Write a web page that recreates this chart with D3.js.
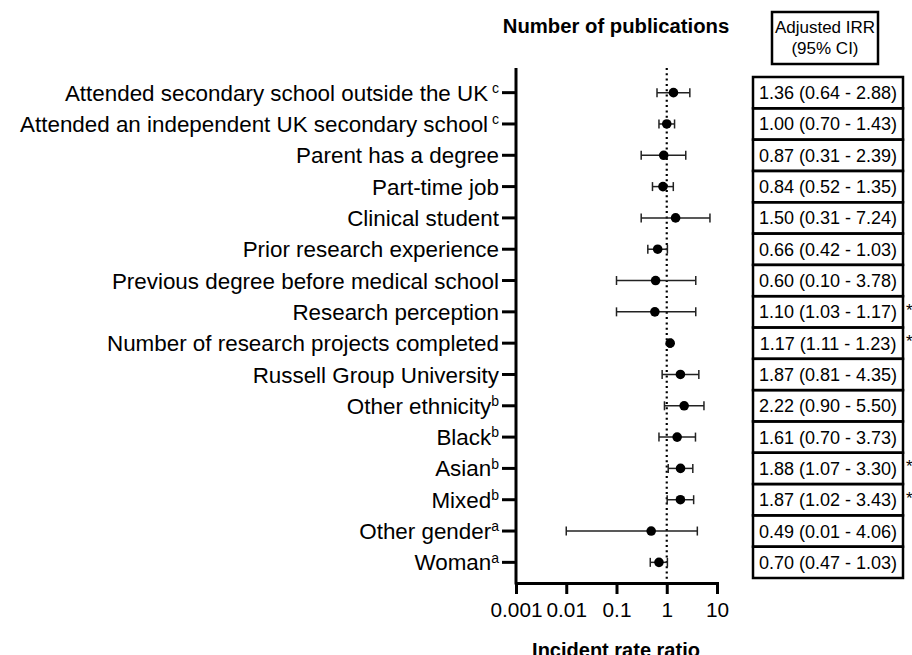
<!DOCTYPE html>
<html>
<head>
<meta charset="utf-8">
<script src="https://cdn.jsdelivr.net/npm/d3@7"></script>
<style>
  body { margin: 0; background: #fff; }
  svg { font-family: "Liberation Sans", Arial, Helvetica, sans-serif; }
</style>
</head>
<body>
<div id="chart"></div>
<script>
// row labels, top to bottom
const labels = [
  "Attended secondary school outside the UK",
  "Attended an independent UK secondary school",
  "Parent has a degree",
  "Part-time job",
  "Clinical student",
  "Prior research experience",
  "Previous degree before medical school",
  "Research perception",
  "Number of research projects completed",
  "Russell Group University",
  "Other ethnicity",
  "Black",
  "Asian",
  "Mixed",
  "Other gender",
  "Woman"
];
const sups = [" c", " c", "", "", "", "", "", "", "", "", "b", "b", "b", "b", "a", "a"];

// plotted estimates and 95% CI as drawn
const est = [1.36, 1.00, 0.87, 0.84, 1.50, 0.66, 0.60, 0.58, 1.17, 1.87, 2.22, 1.61, 1.88, 1.87, 0.49, 0.70];
const lo  = [0.64, 0.70, 0.31, 0.52, 0.31, 0.42, 0.10, 0.10, 1.11, 0.81, 0.90, 0.70, 1.07, 1.02, 0.01, 0.47];
const hi  = [2.88, 1.43, 2.39, 1.35, 7.24, 1.03, 3.78, 3.78, 1.23, 4.35, 5.50, 3.73, 3.30, 3.43, 4.06, 1.03];

// table column
const irrText = [
  "1.36 (0.64 - 2.88)", "1.00 (0.70 - 1.43)", "0.87 (0.31 - 2.39)", "0.84 (0.52 - 1.35)",
  "1.50 (0.31 - 7.24)", "0.66 (0.42 - 1.03)", "0.60 (0.10 - 3.78)", "1.10 (1.03 - 1.17)",
  "1.17 (1.11 - 1.23)", "1.87 (0.81 - 4.35)", "2.22 (0.90 - 5.50)", "1.61 (0.70 - 3.73)",
  "1.88 (1.07 - 3.30)", "1.87 (1.02 - 3.43)", "0.49 (0.01 - 4.06)", "0.70 (0.47 - 1.03)"
];
const signif = [false, false, false, false, false, false, false, true, true, false, false, false, true, true, false, false];

const xTicks = [0.001, 0.01, 0.1, 1, 10];
const xTickLabels = ["0.001", "0.01", "0.1", "1", "10"];

const width = 912, height = 655;
const svg = d3.select("#chart").append("svg")
  .attr("width", width)
  .attr("height", height);

const x = d3.scaleLog().domain([0.001, 10]).range([516, 717]);
const y = d3.scaleBand().domain(d3.range(labels.length)).range([77, 578]);
const yc = (i) => y(i) + y.bandwidth() / 2;

const axisTop = 68, axisBottom = 583;

// title
svg.append("text")
  .attr("x", 616).attr("y", 33)
  .attr("text-anchor", "middle")
  .style("font-size", "20.3px").style("font-weight", "bold")
  .text("Number of publications");

// reference line at 1
svg.append("line")
  .attr("x1", x(1)).attr("x2", x(1))
  .attr("y1", axisTop).attr("y2", axisBottom)
  .attr("stroke", "#000").attr("stroke-width", 2.2)
  .attr("stroke-dasharray", "2,3.3");

// y axis
const yAxis = svg.append("g")
  .attr("transform", `translate(516,0)`)
  .call(d3.axisLeft(y).tickSize(14).tickSizeOuter(0).tickFormat(""));
yAxis.select(".domain").remove();
yAxis.selectAll(".tick line").attr("stroke-width", 3);
svg.append("line")
  .attr("x1", 516).attr("x2", 516)
  .attr("y1", axisTop).attr("y2", axisBottom + 1.5)
  .attr("stroke", "#000").attr("stroke-width", 3);

// row labels with superscripts
labels.forEach((lab, i) => {
  const t = svg.append("text")
    .attr("x", 499).attr("y", yc(i))
    .attr("dy", "0.36em")
    .attr("text-anchor", "end")
    .style("font-size", "22.4px");
  t.append("tspan").text(lab);
  if (sups[i]) {
    t.append("tspan")
      .attr("dy", "-0.55em")
      .style("font-size", "14px")
      .text(sups[i]);
  }
});

// x axis
const xAxis = svg.append("g")
  .attr("transform", `translate(0,${axisBottom})`)
  .call(d3.axisBottom(x)
    .tickValues(xTicks)
    .tickFormat((d, i) => xTickLabels[i])
    .tickSize(11).tickSizeOuter(0).tickPadding(8));
xAxis.select(".domain").attr("stroke-width", 3).attr("stroke-linecap", "square");
xAxis.selectAll(".tick line").attr("stroke-width", 3);
xAxis.selectAll(".tick text").style("font-size", "20.8px").attr("fill", "#000");

svg.append("text")
  .attr("x", 616).attr("y", 657)
  .attr("text-anchor", "middle")
  .style("font-size", "20px").style("font-weight", "bold")
  .text("Incident rate ratio");

// error bars
const rows = svg.append("g").selectAll("g")
  .data(d3.range(labels.length))
  .join("g");

rows.append("line")
  .attr("x1", (i) => x(lo[i])).attr("x2", (i) => x(hi[i]))
  .attr("y1", (i) => yc(i)).attr("y2", (i) => yc(i))
  .attr("stroke", "#222").attr("stroke-width", 1.5);
rows.append("line")
  .attr("x1", (i) => x(lo[i])).attr("x2", (i) => x(lo[i]))
  .attr("y1", (i) => yc(i) - 4.5).attr("y2", (i) => yc(i) + 4.5)
  .attr("stroke", "#222").attr("stroke-width", 1.5);
rows.append("line")
  .attr("x1", (i) => x(hi[i])).attr("x2", (i) => x(hi[i]))
  .attr("y1", (i) => yc(i) - 4.5).attr("y2", (i) => yc(i) + 4.5)
  .attr("stroke", "#222").attr("stroke-width", 1.5);
rows.append("circle")
  .attr("cx", (i) => x(est[i])).attr("cy", (i) => yc(i))
  .attr("r", 4.8).attr("fill", "#000");

// header box
svg.append("rect")
  .attr("x", 772).attr("y", 12).attr("width", 106).attr("height", 52)
  .attr("fill", "none").attr("stroke", "#000").attr("stroke-width", 2.5);
svg.append("text")
  .attr("x", 825).attr("y", 33).attr("text-anchor", "middle")
  .style("font-size", "17px").text("Adjusted IRR");
svg.append("text")
  .attr("x", 825).attr("y", 54).attr("text-anchor", "middle")
  .style("font-size", "17px").text("(95% CI)");

// table boxes
const cells = svg.append("g").selectAll("g")
  .data(d3.range(irrText.length))
  .join("g");
cells.append("rect")
  .attr("x", 753).attr("y", (i) => y(i))
  .attr("width", 150).attr("height", y.bandwidth())
  .attr("fill", "none").attr("stroke", "#000").attr("stroke-width", 2.5);
cells.append("text")
  .attr("x", 828).attr("y", (i) => yc(i)).attr("dy", "0.36em")
  .attr("text-anchor", "middle")
  .style("font-size", "18px")
  .text((i) => irrText[i]);
cells.filter((i) => signif[i]).append("text")
  .attr("x", 906).attr("y", (i) => yc(i) + 4)
  .style("font-size", "17px")
  .text("*");
</script>
</body>
</html>
